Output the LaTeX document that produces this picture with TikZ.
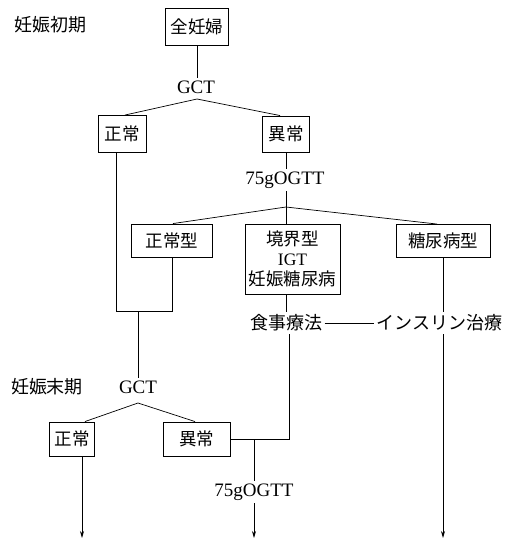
\documentclass[tikz,border=0pt]{standalone}
\usepackage{fontspec}
\newfontfamily\jp{Noto Sans CJK JP}
\newfontfamily\lat{Liberation Serif}
\usetikzlibrary{arrows.meta}
\begin{document}
\begin{tikzpicture}[x=1pt,y=-1pt,
  box/.style={draw,line width=0.9pt,inner sep=0pt,align=center,font=\jp\fontsize{17.5}{20}\selectfont},
  jtxt/.style={inner sep=2.5pt,font=\jp\fontsize{18}{20}\selectfont},
  ltxt/.style={inner sep=2.5pt,font=\lat\fontsize{19}{21}\selectfont},
  ln/.style={line width=0.7pt},
  arr/.style={ln,-{Stealth[length=7pt,width=4pt]}}]
\useasboundingbox (0,0) rectangle (510,544);
% nodes
\node[jtxt] (lab1) at (51,25) {妊娠初期};
\node[box,minimum width=63pt,minimum height=37pt] (all) at (197,27) {全妊婦};
\node[ltxt] (gct1) at (196,87) {GCT};
\coordinate (ap1) at (197,99);
\node[box,minimum width=48pt,minimum height=37pt] (n1) at (122,134) {正常};
\node[box,minimum width=47pt,minimum height=36pt] (a1) at (286,134) {異常};
\node[ltxt] (og1) at (285,180) {75gOGTT};
\coordinate (ap2) at (286,207);
\node[box,minimum width=81pt,minimum height=33pt] (nt) at (172,240.5) {正常型};
\node[box,minimum width=95pt,minimum height=70pt] (bt) at (292.5,259) {境界型\\{\lat IGT}\\妊娠糖尿病};
\node[box,minimum width=94pt,minimum height=33pt] (dt) at (443,241) {糖尿病型};
\node[jtxt] (diet) at (286,323) {食事療法};
\node[jtxt,anchor=west] (ins) at (374,323) {インスリン治療};
\coordinate (j1) at (116,311);
\coordinate (j3) at (138,311);
\node[jtxt] (lab2) at (47,387) {妊娠末期};
\node[ltxt] (gct2) at (138,387) {GCT};
\coordinate (ap3) at (138,403);
\node[box,minimum width=45pt,minimum height=34pt] (n2) at (72,439) {正常};
\node[box,minimum width=67pt,minimum height=34pt] (a2) at (196.5,439) {異常};
\coordinate (j4) at (289,437);
\coordinate (j5) at (254,437);
\node[ltxt] (og2) at (254,492) {75gOGTT};
\coordinate (e1) at (82,538);
\coordinate (e2) at (254,538);
\coordinate (e3) at (443,538);
% connectors
\draw[ln] (all) -- (all |- gct1.north);
\draw[ln] ([xshift=3pt]n1.north) -- (ap1) -- ([xshift=-6pt]a1.north);
\draw[ln] (a1.south) -- (a1.south |- og1.north);
\draw[ln] (ap2 |- og1.south) -- (ap2 |- bt.north);
\draw[ln] ([xshift=1pt]nt.north) -- (ap2) -- ([xshift=-6pt]dt.north);
\draw[ln] (j1 |- n1.south) -- (j1) -- (j1 -| nt.south) -- (nt.south);
\draw[ln] (j3) -- (gct2);
\draw[ln] ([xshift=13pt]n2.north) -- (ap3) -- ([xshift=-1.5pt]a2.north);
\draw[arr] (e1 |- n2.south) -- (e1);
\draw[ln] (a2.east) -- (a2.east -| j4) -- (j4 |- diet.south);
\draw[ln] (j5 |- a2.east) -- (j5 |- og2.north);
\draw[arr] (og2) -- (e2);
\draw[ln] (diet.north) -- (diet.north |- bt.south);
\draw[ln] (diet) -- (ins);
\draw[ln] (dt.south) -- (dt.south |- ins.north);
\draw[arr] (dt.south |- ins.south) -- (e3);
\end{tikzpicture}
\end{document}
